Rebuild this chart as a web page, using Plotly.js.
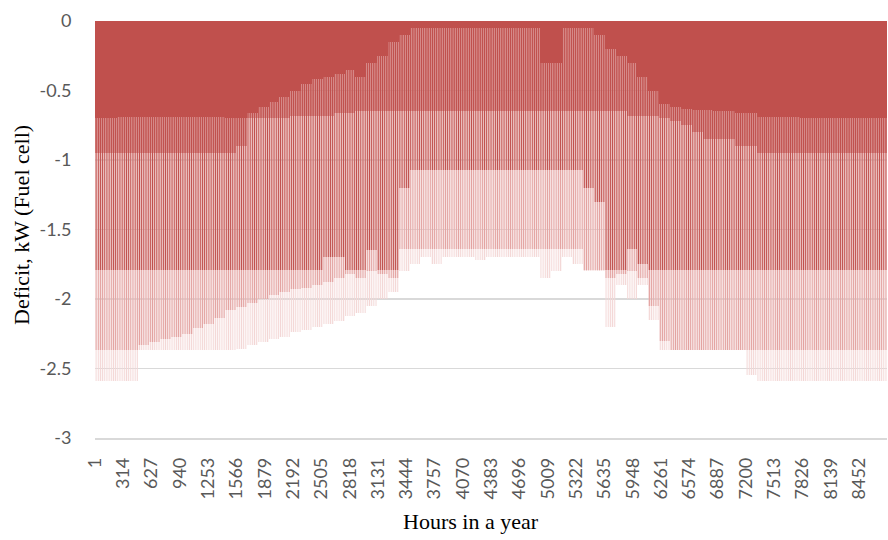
<!DOCTYPE html>
<html>
<head>
<meta charset="utf-8">
<script src="https://cdn.plot.ly/plotly-3.0.1.min.js"></script>
<style>
  html, body { margin: 0; padding: 0; background: #fff; }
  #chart { width: 888px; height: 540px; }
</style>
</head>
<body>
<div id="chart"></div>
<script>
// Hours per aggregation bin (each bin = 5 days of hourly data)
const binHours = 120;

// Tick labels of the hour axis
const tickHours = [1, 314, 627, 940, 1253, 1566, 1879, 2192, 2505, 2818, 3131, 3444, 3757, 4070,
  4383, 4696, 5009, 5322, 5635, 5948, 6261, 6574, 6887, 7200, 7513, 7826, 8139, 8452];
const yTicks = [0, -0.5, -1, -1.5, -2, -2.5, -3];
const yTickText = ['0', '-0.5', '-1', '-1.5', '-2', '-2.5', '-3'];

// Deficit (kW) reached by (nearly) every hour of the bin
const solidDeficit = [
  -0.70,-0.70,-0.69,-0.69,-0.69,-0.69,-0.69,-0.69,-0.69,-0.69,-0.69,-0.69,
  -0.70,-0.70,-0.66,-0.62,-0.58,-0.55,-0.50,-0.45,-0.42,-0.40,-0.38,-0.35,
  -0.40,-0.30,-0.25,-0.15,-0.10,-0.05,-0.05,-0.05,-0.05,-0.05,-0.05,-0.05,
  -0.05,-0.05,-0.05,-0.05,-0.05,-0.30,-0.30,-0.05,-0.05,-0.05,-0.10,-0.20,-0.25,
  -0.30,-0.40,-0.50,-0.60,-0.62,-0.63,-0.64,-0.64,-0.65,-0.65,-0.66,-0.66,
  -0.69,-0.69,-0.69,-0.69,-0.70,-0.70,-0.70,-0.70,-0.70,-0.70,-0.70,-0.70
];
// Deficit reached by most hours of each day
const denseDeficit = [
  -0.95,-0.95,-0.95,-0.95,-0.95,-0.95,-0.95,-0.95,-0.95,-0.95,-0.95,-0.95,
  -0.95,-0.90,-0.70,-0.70,-0.70,-0.70,-0.68,-0.68,-0.68,-0.68,-0.66,-0.66,
  -0.65,-0.65,-0.65,-0.65,-0.65,-0.65,-0.65,-0.65,-0.65,-0.65,-0.65,-0.65,
  -0.65,-0.65,-0.65,-0.65,-0.65,-0.65,-0.65,-0.65,-0.65,-0.65,-0.65,-0.65,-0.65,
  -0.68,-0.68,-0.68,-0.70,-0.72,-0.75,-0.80,-0.85,-0.85,-0.85,-0.90,-0.90,
  -0.95,-0.95,-0.95,-0.95,-0.95,-0.95,-0.95,-0.95,-0.95,-0.95,-0.95,-0.95
];
// Deficit reached by the night hours
const nightDeficit = [
  -1.79,-1.79,-1.79,-1.79,-1.79,-1.79,-1.79,-1.79,-1.79,-1.79,-1.79,-1.79,
  -1.79,-1.79,-1.79,-1.79,-1.79,-1.79,-1.79,-1.79,-1.79,-1.70,-1.70,-1.79,
  -1.79,-1.65,-1.79,-1.79,-1.20,-1.07,-1.07,-1.07,-1.07,-1.07,-1.07,-1.07,
  -1.07,-1.07,-1.07,-1.07,-1.07,-1.07,-1.07,-1.07,-1.07,-1.20,-1.30,-1.79,-1.79,
  -1.64,-1.75,-1.79,-1.79,-1.79,-1.79,-1.79,-1.79,-1.79,-1.79,-1.79,-1.79,
  -1.79,-1.79,-1.79,-1.79,-1.79,-1.79,-1.79,-1.79,-1.79,-1.79,-1.79,-1.79
];
// Deficit reached by the evening peak hours
const peakDeficit = [
  -2.37,-2.37,-2.37,-2.37,-2.33,-2.31,-2.29,-2.27,-2.25,-2.21,-2.18,-2.14,
  -2.08,-2.06,-2.03,-2.00,-1.97,-1.95,-1.93,-1.92,-1.90,-1.88,-1.85,-1.82,
  -1.85,-1.80,-1.82,-1.85,-1.64,-1.64,-1.64,-1.64,-1.64,-1.64,-1.64,-1.64,
  -1.64,-1.64,-1.64,-1.64,-1.64,-1.64,-1.64,-1.64,-1.64,-1.79,-1.79,-1.85,-1.82,
  -1.80,-1.85,-2.05,-2.30,-2.37,-2.37,-2.37,-2.37,-2.37,-2.37,-2.37,-2.37,
  -2.37,-2.37,-2.37,-2.37,-2.37,-2.37,-2.37,-2.37,-2.37,-2.37,-2.37,-2.37
];
// Deepest single-hour deficit in the bin
const maxDeficit = [
  -2.59,-2.59,-2.59,-2.59,-2.37,-2.37,-2.37,-2.37,-2.37,-2.37,-2.37,-2.37,
  -2.37,-2.36,-2.33,-2.31,-2.29,-2.27,-2.24,-2.22,-2.20,-2.18,-2.16,-2.12,
  -2.10,-2.05,-2.00,-1.95,-1.80,-1.75,-1.70,-1.75,-1.70,-1.70,-1.70,-1.72,
  -1.70,-1.70,-1.70,-1.70,-1.70,-1.85,-1.80,-1.70,-1.75,-1.80,-1.80,-2.20,-1.90,
  -2.00,-1.90,-2.15,-2.37,-2.37,-2.37,-2.37,-2.37,-2.37,-2.37,-2.37,-2.55,
  -2.59,-2.59,-2.59,-2.59,-2.59,-2.59,-2.59,-2.59,-2.59,-2.59,-2.59,-2.59
];

const binCenters = solidDeficit.map((_, i) => i * binHours + binHours / 2 + 0.5);

const RED = '#C0504D';
function stripeTrace(values, color, solidity) {
  return {
    type: 'bar', x: binCenters, y: values, width: binHours,
    hoverinfo: 'skip', showlegend: false,
    marker: {
      color: 'rgba(0,0,0,0)', line: { width: 0 },
      pattern: { shape: '|', fillmode: 'replace', bgcolor: 'rgba(0,0,0,0)',
                 fgcolor: color, fgopacity: 1, size: 2.17, solidity: solidity }
    }
  };
}

const traces = [
  stripeTrace(maxDeficit, '#F3D6D5', 0.5),
  stripeTrace(peakDeficit, '#E3A2A0', 0.5),
  stripeTrace(nightDeficit, RED, 0.5),
  stripeTrace(denseDeficit, RED, 0.65),
  { type: 'bar', x: binCenters, y: solidDeficit, width: binHours,
    hoverinfo: 'skip', showlegend: false,
    marker: { color: RED, line: { width: 0 } } }
];

const tickFont = { family: 'Lato, "Open Sans", sans-serif', size: 18, color: '#595959' };
const titleFont = { family: '"Liberation Serif", "Times New Roman", serif', size: 22, color: '#000000' };

const layout = {
  width: 888, height: 540,
  margin: { l: 95, r: 1, t: 21, b: 102 },
  paper_bgcolor: '#ffffff', plot_bgcolor: '#ffffff',
  barmode: 'overlay', bargap: 0,
  xaxis: {
    type: 'linear', range: [0.5, 8760.5],
    tickmode: 'array', tickvals: tickHours, ticktext: tickHours.map(String),
    tickangle: -90, tickfont: tickFont,
    ticks: 'outside', ticklen: 11, tickcolor: 'rgba(0,0,0,0)',
    showgrid: false, zeroline: false,
    showline: true, linecolor: '#D9D9D9', linewidth: 1.5
  },
  yaxis: {
    range: [-3, 0],
    tickmode: 'array', tickvals: yTicks, ticktext: yTickText,
    tickfont: tickFont,
    ticks: 'outside', ticklen: 19, tickcolor: 'rgba(0,0,0,0)',
    showgrid: true, gridcolor: '#D9D9D9', gridwidth: 1.5,
    zeroline: false, showline: false
  },
  annotations: [
    { text: 'Hours in a year', xref: 'paper', yref: 'paper', x: 0.4747, y: -0.2014,
      xanchor: 'center', yanchor: 'middle', showarrow: false, font: titleFont },
    { text: 'Deficit, kW (Fuel cell)', xref: 'paper', yref: 'paper', x: -0.0922, y: 0.511,
      xanchor: 'center', yanchor: 'middle', textangle: -90, showarrow: false, font: titleFont }
  ]
};

Plotly.newPlot('chart', traces, layout, { staticPlot: true, displayModeBar: false });
</script>
</body>
</html>
